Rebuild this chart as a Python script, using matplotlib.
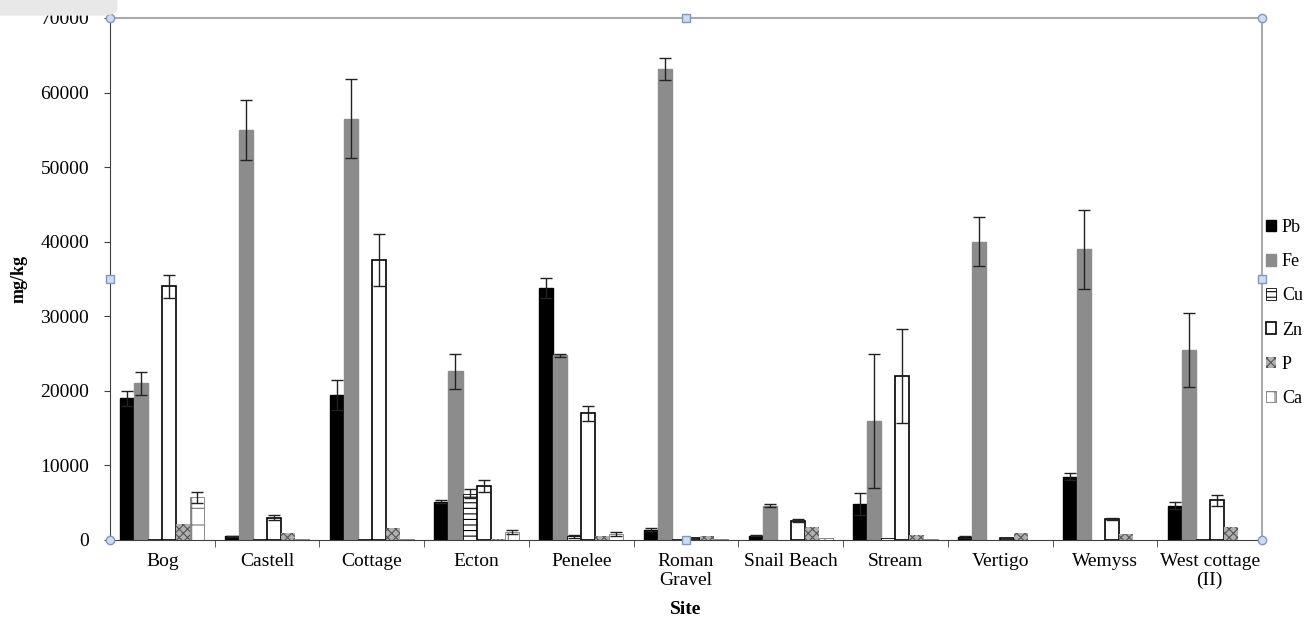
import numpy as np
import matplotlib
matplotlib.use("Agg")
import matplotlib.pyplot as plt
from matplotlib.patches import FancyBboxPatch

# data (mg/kg)
sites = ["Bog", "Castell", "Cottage", "Ecton", "Penelee", "Roman\nGravel",
         "Snail Beach", "Stream", "Vertigo", "Wemyss", "West cottage\n(II)"]

pb = [19000, 500, 19500, 5100, 33800, 1400, 600, 4800, 400, 8500, 4600]
pb_err = [1000, 100, 2000, 200, 1300, 200, 100, 1500, 100, 500, 500]

fe = [21000, 55000, 56500, 22600, 24800, 63200, 4600, 16000, 40000, 39000, 25500]
fe_err = [1500, 4000, 5300, 2300, 200, 1500, 200, 9000, 3300, 5300, 5000]

cu = [100, 200, 200, 6200, 500, 100, 50, 300, 50, 50, 200]
cu_err = [0, 0, 0, 600, 200, 0, 0, 0, 0, 0, 0]

zn = [34000, 3000, 37500, 7300, 17000, 300, 2600, 22000, 300, 2800, 5300]
zn_err = [1500, 300, 3500, 800, 1000, 0, 150, 6300, 0, 100, 700]

p = [2200, 1000, 1600, 100, 600, 500, 1800, 700, 1000, 800, 1800]
p_err = [0, 0, 0, 0, 0, 0, 0, 0, 0, 0, 0]

ca = [5700, 100, 200, 1100, 800, 100, 300, 200, 50, 50, 50]
ca_err = [700, 0, 0, 300, 300, 0, 0, 0, 0, 0, 0]

series = [
    ("Pb", pb, pb_err, dict(color="black", edgecolor="black")),
    ("Fe", fe, fe_err, dict(color="#8c8c8c", edgecolor="#8c8c8c")),
    ("Cu", cu, cu_err, dict(color="white", edgecolor="black", hatch="---", linewidth=0.6)),
    ("Zn", zn, zn_err, dict(color="white", edgecolor="black", linewidth=1.2)),
    ("P", p, p_err, dict(color="#b0b0b0", edgecolor="#555555", hatch="xxxx", linewidth=0)),
    ("Ca", ca, ca_err, dict(color="white", edgecolor="#777777", hatch="+", linewidth=0.6)),
]

plt.rcParams['font.family'] = ['Liberation Serif', 'DejaVu Serif']
plt.rcParams['hatch.linewidth'] = 0.8

fig = plt.figure(figsize=(13.04, 6.26), dpi=100)
ax = fig.add_axes([110/1304, 86/626, 1152/1304, 522/626])

x = np.arange(len(sites))
w = 0.134
for i, (name, vals, errs, style) in enumerate(series):
    pos = x + (i - 2.5) * w
    ax.bar(pos, vals, width=w, label=name, zorder=2, **style)
    errs = np.array(errs)
    m = errs > 0
    ax.errorbar(pos[m], np.array(vals)[m], yerr=errs[m], fmt="none",
                ecolor="#222222", elinewidth=1, capsize=4, capthick=1, zorder=3)

ax.set_xlim(-0.5, len(sites) - 0.5)
ax.set_ylim(0, 70000)
ax.set_yticks(np.arange(0, 70001, 10000))
ax.set_xticks(x)
ax.set_xticklabels(sites, fontsize=14, linespacing=1.2)
ax.set_xticks(np.arange(0.5, len(sites) - 0.5, 1), minor=True)
ax.tick_params(axis="x", which="major", length=0, pad=9)
ax.tick_params(axis="x", which="minor", length=5, direction="out", color="#404040")
ax.tick_params(axis="y", length=4, direction="out", color="#404040", labelsize=14, pad=11)

for s in ["left", "bottom"]:
    ax.spines[s].set_color("#404040")
for s in ["top", "right"]:
    ax.spines[s].set_color("#aaaaaa")
    ax.spines[s].set_linewidth(1.5)

ax.set_ylabel("mg/kg", fontsize=13, fontweight="bold", labelpad=9)
ax.set_xlabel("Site", fontsize=14, fontweight="bold", labelpad=8)

ax.legend(loc="center left", bbox_to_anchor=(1.0, 0.435), frameon=False,
          fontsize=13, handlelength=0.6, handleheight=0.6, handletextpad=0.3,
          labelspacing=0.95, borderaxespad=0.2, borderpad=0)

# selection handles on the plot frame
for hx, hy, mk in [(0, 1, "o"), (0.5, 1, "s"), (1, 1, "o"), (0, 0.5, "s"),
                   (1, 0.5, "s"), (0, 0, "o"), (0.5, 0, "s"), (1, 0, "o")]:
    ax.plot(hx, hy, marker=mk, markersize=6, markerfacecolor="#cddcf2",
            markeredgecolor="#7d97c8", markeredgewidth=1,
            transform=ax.transAxes, clip_on=False, zorder=5)

fig.patches.append(FancyBboxPatch((-0.02, 0.975), 0.11, 0.05,
                                  boxstyle="round,pad=0,rounding_size=0.012",
                                  transform=fig.transFigure, facecolor="#e8e8e8",
                                  edgecolor="none", zorder=0))

fig.savefig("out.png", dpi=100)
